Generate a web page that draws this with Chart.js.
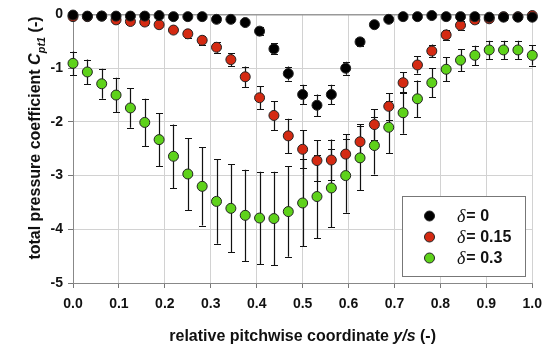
<!DOCTYPE html>
<html>
<head>
<meta charset="utf-8">
<script src="https://cdn.jsdelivr.net/npm/chart.js@4/dist/chart.umd.min.js"></script>
<style>
  html, body { margin: 0; padding: 0; background: #fff; }
  #wrap { width: 550px; height: 350px; }
</style>
</head>
<body>
<div id="wrap"><canvas id="cpChart" width="550" height="350"></canvas></div>
<script>
// 33 measuring points across one pitch
const pitchPos = [];
for (let i = 0; i <= 32; i++) pitchPos.push(i / 32);

const seriesLabels = ['0', '0.15', '0.3'];

const cpDelta0 = [-0.01, -0.03, -0.03, -0.03, -0.03, -0.03, -0.02, -0.04, -0.04, -0.04, -0.09,
    -0.09, -0.15, -0.31, -0.64, -1.10, -1.49, -1.69, -1.49, -1.00, -0.51, -0.19,
    -0.09, -0.04, -0.04, -0.02, -0.04, -0.04, -0.04, -0.05, -0.05, -0.05, -0.05];
const errDelta0 = [0.05, 0.05, 0.05, 0.05, 0.05, 0.05, 0.05, 0.05, 0.05, 0.05, 0.05,
    0.05, 0.05, 0.07, 0.10, 0.13, 0.18, 0.20, 0.18, 0.12, 0.08, 0.05,
    0.05, 0.05, 0.05, 0.05, 0.05, 0.05, 0.05, 0.05, 0.05, 0.05, 0.05];

const cpDelta015 = [-0.04, -0.04, -0.03, -0.10, -0.13, -0.14, -0.19, -0.29, -0.36, -0.48, -0.61,
    -0.84, -1.16, -1.55, -1.88, -2.26, -2.51, -2.72, -2.71, -2.60, -2.37, -2.05,
    -1.71, -1.27, -0.94, -0.68, -0.38, -0.20, -0.10, -0.08, -0.04, -0.04, -0.02];
const errDelta015 = [0.05, 0.05, 0.05, 0.05, 0.05, 0.05, 0.05, 0.06, 0.07, 0.08, 0.10,
    0.12, 0.19, 0.21, 0.27, 0.32, 0.35, 0.38, 0.38, 0.37, 0.33, 0.29,
    0.25, 0.19, 0.16, 0.12, 0.10, 0.08, 0.06, 0.05, 0.05, 0.05, 0.05];

const cpDelta03 = [-0.91, -1.07, -1.29, -1.50, -1.74, -2.01, -2.33, -2.64, -2.97, -3.20, -3.48,
    -3.61, -3.74, -3.79, -3.80, -3.67, -3.51, -3.39, -3.23, -3.00, -2.67, -2.44,
    -2.10, -1.83, -1.57, -1.27, -1.02, -0.85, -0.76, -0.66, -0.66, -0.66, -0.76];
const errDelta03 = [0.22, 0.23, 0.28, 0.32, 0.37, 0.44, 0.49, 0.59, 0.67, 0.73, 0.79,
    0.82, 0.85, 0.86, 0.87, 0.84, 0.81, 0.77, 0.73, 0.69, 0.60, 0.54,
    0.48, 0.39, 0.34, 0.27, 0.22, 0.20, 0.18, 0.17, 0.17, 0.17, 0.19];

const yTicks = [0, -1, -2, -3, -4, -5];

const markerColors = ['#000000', '#d42a12', '#5ed21a'];
const allErrors = [errDelta0, errDelta015, errDelta03];

function toPoints(ys) {
    return ys.map((y, i) => ({ x: pitchPos[i], y: y }));
}

const FONT = 'Liberation Sans, Arial, sans-serif';

// error bars, drawn under the markers
const errorBars = {
    id: 'errorBars',
    beforeDatasetsDraw(chart) {
        const ctx = chart.ctx;
        const xs = chart.scales.x, ys = chart.scales.y;
        ctx.save();
        ctx.strokeStyle = '#111';
        ctx.lineWidth = 1.2;
        chart.data.datasets.forEach((ds, k) => {
            ds.data.forEach((p, i) => {
                const e = allErrors[k][i];
                const px = Math.round(xs.getPixelForValue(p.x)) + 0.5;
                const top = ys.getPixelForValue(p.y + e);
                const bot = ys.getPixelForValue(p.y - e);
                ctx.beginPath();
                ctx.moveTo(px, top); ctx.lineTo(px, bot);
                ctx.moveTo(px - 3.5, Math.round(top) + 0.5); ctx.lineTo(px + 3.5, Math.round(top) + 0.5);
                ctx.moveTo(px - 3.5, Math.round(bot) + 0.5); ctx.lineTo(px + 3.5, Math.round(bot) + 0.5);
                ctx.stroke();
            });
        });
        ctx.restore();
    }
};

// axis titles with italic parts / subscript, and the boxed legend
const decorations = {
    id: 'decorations',
    afterDraw(chart) {
        const ctx = chart.ctx;
        const area = chart.chartArea;
        ctx.save();
        ctx.fillStyle = '#111';
        ctx.textBaseline = 'alphabetic';

        // x title
        const parts = [
            ['bold 16px ' + FONT, 'relative pitchwise coordinate '],
            ['bold italic 16px ' + FONT, 'y/s'],
            ['bold 16px ' + FONT, ' (-)']
        ];
        let w = 0;
        parts.forEach(p => { ctx.font = p[0]; w += ctx.measureText(p[1]).width; });
        let x = (area.left + area.right) / 2 - w / 2;
        parts.forEach(p => {
            ctx.font = p[0];
            ctx.fillText(p[1], x, 341);
            x += ctx.measureText(p[1]).width;
        });

        // y title, rotated
        ctx.save();
        ctx.translate(40, 138);
        ctx.rotate(-Math.PI / 2);
        const yParts = [
            ['bold 16px ' + FONT, 'total pressure coefficient ', 0],
            ['bold italic 16px ' + FONT, 'C', 0],
            ['bold italic 11px ' + FONT, 'pt1', 4.5],
            ['bold 16px ' + FONT, ' (-)', 0]
        ];
        w = 0;
        yParts.forEach(p => { ctx.font = p[0]; w += ctx.measureText(p[1]).width; });
        x = -w / 2;
        yParts.forEach(p => {
            ctx.font = p[0];
            ctx.fillText(p[1], x, p[2]);
            x += ctx.measureText(p[1]).width;
        });
        ctx.restore();

        // legend
        ctx.fillStyle = '#fff';
        ctx.fillRect(402, 196, 123, 80);
        ctx.strokeStyle = '#777';
        ctx.lineWidth = 1;
        ctx.strokeRect(402.5, 196.5, 123, 80);
        const rows = [216, 237, 258];
        rows.forEach((ry, k) => {
            ctx.beginPath();
            ctx.arc(429.5, ry, 5, 0, Math.PI * 2);
            ctx.fillStyle = markerColors[k];
            ctx.fill();
            ctx.strokeStyle = '#222';
            ctx.stroke();
            ctx.fillStyle = '#111';
            ctx.textBaseline = 'middle';
            ctx.font = 'italic 18px Liberation Serif, Times New Roman, serif';
            ctx.fillText('\u03b4', 457, ry + 1);
            const dw = ctx.measureText('\u03b4').width;
            ctx.font = 'bold 16px ' + FONT;
            ctx.fillText('= ' + seriesLabels[k], 457 + dw + 1, ry + 1);
        });
        ctx.restore();
    }
};

const datasets = [cpDelta0, cpDelta015, cpDelta03].map((vals, k) => ({
    label: '\u03b4 = ' + seriesLabels[k],
    data: toPoints(vals),
    showLine: false,
    pointRadius: 5,
    pointHoverRadius: 5,
    pointBackgroundColor: markerColors[k],
    pointBorderColor: '#222',
    pointBorderWidth: 1,
    clip: false
}));

new Chart(document.getElementById('cpChart'), {
    type: 'scatter',
    data: { datasets: datasets },
    plugins: [errorBars, decorations],
    options: {
        responsive: false,
        animation: false,
        events: [],
        layout: { padding: { left: 0, right: 17, top: 14.5, bottom: 0 } },
        plugins: {
            legend: { display: false },
            tooltip: { enabled: false }
        },
        scales: {
            x: {
                type: 'linear',
                min: 0, max: 1,
                afterFit(scale) { scale.height = 67; },
                ticks: {
                    stepSize: 0.1,
                    padding: 8,
                    color: '#111',
                    font: { family: FONT, size: 14, weight: 'bold' },
                    callback: v => v.toFixed(1)
                },
                grid: {
                    color: '#d2d2d2',
                    tickColor: '#777',
                    tickLength: 5
                },
                border: { color: '#888' }
            },
            y: {
                type: 'linear',
                min: -5, max: 0,
                afterFit(scale) { scale.width = 73; },
                afterBuildTicks(scale) { scale.ticks = yTicks.map(v => ({ value: v })); },
                ticks: {
                    padding: 5,
                    color: '#111',
                    font: { family: FONT, size: 14, weight: 'bold' },
                    callback: v => String(v)
                },
                grid: {
                    color: ctx => ctx.tick && ctx.tick.value === 0 ? '#999' : '#d2d2d2',
                    lineWidth: ctx => ctx.tick && ctx.tick.value === 0 ? 1.5 : 1,
                    tickColor: '#777',
                    tickLength: 5
                },
                border: { color: '#888' }
            }
        }
    }
});
</script>
</body>
</html>
